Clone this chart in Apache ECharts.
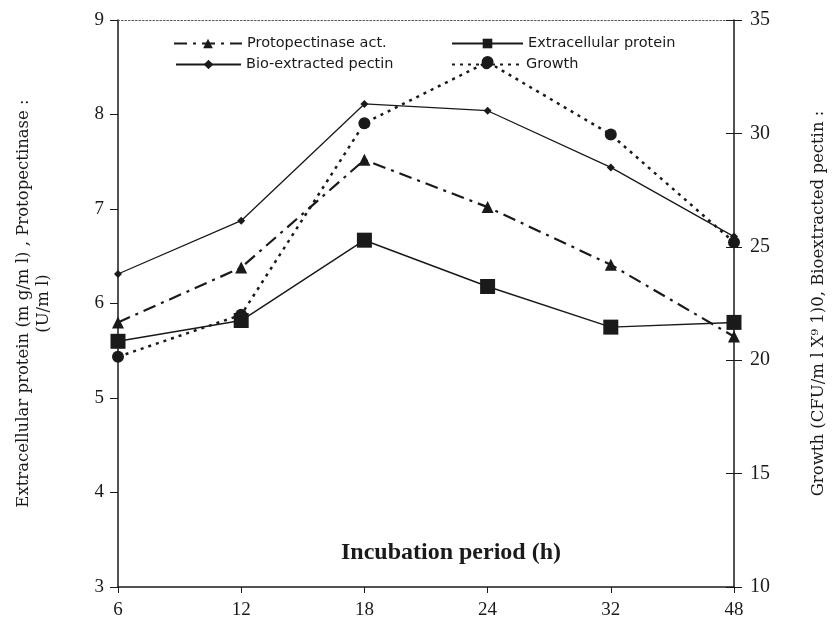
<!DOCTYPE html>
<html>
<head>
<meta charset="utf-8">
<script src="https://cdn.jsdelivr.net/npm/echarts@6/dist/echarts.min.js"></script>
<style>
  html, body { margin: 0; padding: 0; background: #fff; }
  #chart { width: 835px; height: 632px; }
</style>
</head>
<body>
<div id="chart"></div>
<script>
// incubation period (h)
const periods = ['6', '12', '18', '24', '32', '48']

// left axis (mg/ml , U/ml)
const protopectinase = [5.80, 6.38, 7.52, 7.02, 6.41, 5.65]
const protein = [5.60, 5.82, 6.67, 6.18, 5.75, 5.80]

// right axis
const pectin = [23.8, 26.15, 31.3, 31.0, 28.5, 25.45]
const growth = [20.15, 22.0, 30.45, 33.15, 29.95, 25.2]

const serif = "'Liberation Serif', 'DejaVu Serif', serif"
const wideSerif = "'DejaVu Serif', serif"
const sans = "'DejaVu Sans', 'Liberation Sans', sans-serif"
const ink = '#1a1a1a'

const chart = echarts.init(document.getElementById('chart'))

// one legend per item so the 2x2 block sits where the original has it
const legendBase = {
  orient: 'horizontal',
  itemHeight: 12,
  itemGap: 6,
  textStyle: { fontFamily: sans, fontSize: 14.5, color: ink },
}

chart.setOption({
  animation: false,
  backgroundColor: '#fff',
  grid: { left: 118, right: 98, top: 20, bottom: 45 },
  legend: [
    { ...legendBase, data: ['Protopectinase act.'], left: 168, top: 31, itemWidth: 68 },
    { ...legendBase, data: ['Extracellular protein'], left: 446, top: 31, itemWidth: 71 },
    { ...legendBase, data: ['Bio-extracted pectin'], left: 170, top: 52, itemWidth: 65 },
    { ...legendBase, data: ['Growth'], left: 446, top: 52, itemWidth: 69 },
  ],
  xAxis: [
    {
      type: 'category',
      data: periods,
      boundaryGap: false,
      name: 'Incubation period (h)',
      nameLocation: 'middle',
      nameGap: -46,
      nameTextStyle: {
        fontFamily: serif, fontSize: 24, fontWeight: 'bold', color: ink,
        padding: [0, 0, 0, 50],
      },
      axisLine: { lineStyle: { color: ink, width: 1.5 } },
      axisTick: { alignWithLabel: true, length: 6, lineStyle: { color: ink } },
      axisLabel: { fontFamily: serif, fontSize: 19, color: ink, margin: 14 },
      splitLine: { show: false },
    },
    {
      // dotted frame line along the top
      type: 'category',
      data: periods,
      boundaryGap: false,
      position: 'top',
      axisLine: { lineStyle: { color: '#555', type: [1.5, 2], width: 1.2 } },
      axisTick: { show: false },
      axisLabel: { show: false },
    },
  ],
  yAxis: [
    {
      type: 'value',
      min: 3,
      max: 9,
      interval: 1,
      position: 'left',
      name: 'Extracellular protein (m g/m l) , Protopectinase :\n(U/m l)',
      nameLocation: 'middle',
      nameRotate: 90,
      nameGap: 64,
      nameTextStyle: { fontFamily: wideSerif, fontSize: 16.5, color: ink, lineHeight: 20 },
      axisLine: { show: true, lineStyle: { color: ink, width: 1.5 } },
      axisTick: { show: true, length: 8, lineStyle: { color: ink } },
      axisLabel: { fontFamily: serif, fontSize: 19, color: ink, margin: 14 },
      splitLine: { show: false },
    },
    {
      type: 'value',
      min: 10,
      max: 35,
      interval: 5,
      position: 'right',
      name: 'Growth (CFU/m l X\u2079 1)0, Bioextracted pectin :',
      nameLocation: 'middle',
      nameRotate: 90,
      nameGap: 76,
      nameTextStyle: { fontFamily: wideSerif, fontSize: 16.5, color: ink },
      axisLine: { show: true, lineStyle: { color: ink, width: 1.5 } },
      axisTick: { show: true, length: 8, lineStyle: { color: ink } },
      axisLabel: { fontFamily: serif, fontSize: 20, color: ink, margin: 16 },
      splitLine: { show: false },
    },
    {
      // inward half of the right-hand ticks
      type: 'value',
      min: 10,
      max: 35,
      interval: 5,
      position: 'right',
      axisLine: { show: false },
      axisTick: { show: true, inside: true, length: 8, lineStyle: { color: ink } },
      axisLabel: { show: false },
      splitLine: { show: false },
    },
  ],
  series: [
    {
      name: 'Protopectinase act.',
      type: 'line',
      yAxisIndex: 0,
      data: protopectinase,
      symbol: 'triangle',
      symbolSize: 12,
      itemStyle: { color: ink },
      lineStyle: { color: ink, width: 2.2, type: [13, 6, 3, 6] },
    },
    {
      name: 'Extracellular protein',
      type: 'line',
      yAxisIndex: 0,
      data: protein,
      symbol: 'rect',
      symbolSize: 15,
      itemStyle: { color: ink },
      lineStyle: { color: ink, width: 1.5 },
    },
    {
      name: 'Bio-extracted pectin',
      type: 'line',
      yAxisIndex: 1,
      data: pectin,
      symbol: 'diamond',
      symbolSize: 8,
      itemStyle: { color: ink },
      lineStyle: { color: ink, width: 1.3 },
    },
    {
      name: 'Growth',
      type: 'line',
      yAxisIndex: 1,
      data: growth,
      symbol: 'circle',
      symbolSize: 12,
      itemStyle: { color: ink },
      lineStyle: { color: ink, width: 2.5, type: [3, 5] },
    },
  ],
})
</script>
</body>
</html>
